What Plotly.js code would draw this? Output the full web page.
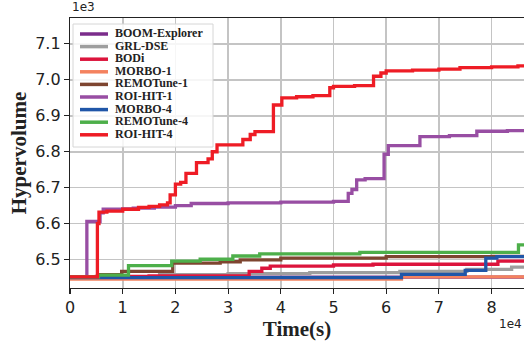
<!DOCTYPE html>
<html>
<head>
<meta charset="utf-8">
<script src="https://cdn.plot.ly/plotly-3.0.1.min.js"></script>
<style>html,body{margin:0;padding:0;background:#fff;}#chart{width:524px;height:341px;}</style>
</head>
<body>
<div id="chart"></div>
<script>
// Time in units of 1e4 s, hypervolume in units of 1e3
const seriesNames = ["BOOM-Explorer","GRL-DSE","BODi","MORBO-1","REMOTune-1","ROI-HIT-1","MORBO-4","REMOTune-4","ROI-HIT-4"];
const seriesColors = ["#7b2d8b","#9e9e9e","#dc143c","#f4825f","#7e4530","#984ea3","#2056a8","#4daf4a","#ee1c25"];

const boomX = [0, 3.0, 8.62];
const boomY = [6.450, 6.451, 6.452];

const grlX = [0, 1.7, 3.0, 4.55, 6.26, 7.53, 8.38, 8.62];
const grlY = [6.452, 6.458, 6.461, 6.464, 6.467, 6.473, 6.479, 6.480];

const bodiX = [0, 0.5, 1.5, 3.40, 3.64, 3.80, 5.0, 5.75, 8.12, 8.62];
const bodiY = [6.452, 6.453, 6.455, 6.467, 6.476, 6.482, 6.485, 6.487, 6.496, 6.497];

const morbo1X = [0, 6.29, 8.62];
const morbo1Y = [6.446, 6.452, 6.452];

const remo1X = [0, 0.55, 0.98, 1.95, 2.85, 3.23, 4.0, 6.0, 8.0, 8.62];
const remo1Y = [6.452, 6.458, 6.467, 6.490, 6.494, 6.499, 6.504, 6.508, 6.509, 6.510];

const roi1X = [0, 0.32, 0.57, 0.63, 1.0, 1.2, 1.6, 2.0, 2.3, 3.0, 4.0, 5.0, 5.28, 5.35, 5.44, 5.6, 5.96, 6.04, 6.64, 7.2, 7.72, 8.3, 8.62];
const roi1Y = [6.452, 6.606, 6.630, 6.640, 6.641, 6.643, 6.646, 6.650, 6.656, 6.658, 6.660, 6.662, 6.684, 6.695, 6.722, 6.725, 6.793, 6.817, 6.842, 6.845, 6.857, 6.859, 6.860];

const morbo4X = [0, 6.29, 7.50, 7.89, 8.10, 8.62];
const morbo4Y = [6.450, 6.459, 6.470, 6.504, 6.508, 6.508];

const remo4X = [0, 0.54, 1.11, 1.93, 2.47, 3.09, 3.6, 5.5, 8.51, 8.62];
const remo4Y = [6.452, 6.457, 6.483, 6.496, 6.501, 6.510, 6.516, 6.520, 6.541, 6.541];

const roi4X = [0, 0.52, 0.55, 0.7, 1.0, 1.3, 1.5, 1.7, 1.85, 1.9, 2.0, 2.1, 2.2, 2.4, 2.62, 2.7, 2.79, 3.28, 3.42, 3.51, 3.86, 4.02, 4.3, 4.61, 4.93, 5.0, 5.4, 5.76, 5.9, 6.0, 6.5, 7.0, 7.4, 8.0, 8.5, 8.62];
const roi4Y = [6.452, 6.600, 6.632, 6.635, 6.640, 6.645, 6.648, 6.652, 6.658, 6.680, 6.710, 6.715, 6.740, 6.770, 6.780, 6.800, 6.819, 6.834, 6.848, 6.856, 6.930, 6.950, 6.953, 6.956, 6.978, 6.982, 6.984, 7.010, 7.019, 7.025, 7.027, 7.030, 7.034, 7.036, 7.039, 7.040];

const xTicks = [0,1,2,3,4,5,6,7,8];
const yTicks = [6.5,6.6,6.7,6.8,6.9,7.0,7.1];
const yTickLabels = ["6.5","6.6","6.7","6.8","6.9","7.0","7.1"];

const allX = [boomX, grlX, bodiX, morbo1X, remo1X, roi1X, morbo4X, remo4X, roi4X];
const allY = [boomY, grlY, bodiY, morbo1Y, remo1Y, roi1Y, morbo4Y, remo4Y, roi4Y];

const traces = seriesNames.map((n, i) => ({
  x: allX[i], y: allY[i], name: n, type: 'scatter', mode: 'lines',
  line: {shape: 'hv', color: seriesColors[i], width: 3.3},
  hoverinfo: 'skip', showlegend: false
}));

// compact legend drawn on a hidden overlay subplot measured in page pixels
const W = 524, H = 341;
const mL = 70, mR = 0, mT = 18, mB = 53;
const legTop = 34, legStep = 12.6;
const rowY = seriesNames.map((n, i) => legTop + i * legStep);

traces.push({type: 'scatter', mode: 'lines', xaxis: 'x2', yaxis: 'y2',
  x: [73, 213, 213, 73, 73], y: [24, 24, 147, 147, 24], fill: 'toself',
  fillcolor: 'rgba(255,255,255,0.85)', line: {color: '#d6d6d6', width: 1},
  hoverinfo: 'skip', showlegend: false});
seriesNames.forEach((n, i) => {
  traces.push({type: 'scatter', mode: 'lines', xaxis: 'x2', yaxis: 'y2',
    x: [80, 108], y: [rowY[i], rowY[i]], line: {color: seriesColors[i], width: 3.5},
    hoverinfo: 'skip', showlegend: false});
});
traces.push({type: 'scatter', mode: 'text', xaxis: 'x2', yaxis: 'y2',
  x: seriesNames.map(() => 115), y: rowY, text: seriesNames.map(n => '<b>' + n + '</b>'),
  textposition: 'middle right', cliponaxis: false,
  textfont: {family: 'Liberation Serif, Times New Roman, serif', size: 12, color: '#222'},
  hoverinfo: 'skip', showlegend: false});

const layout = {
  width: W, height: H,
  margin: {l: mL, r: mR, t: mT, b: mB},
  paper_bgcolor: '#fff', plot_bgcolor: '#fff',
  font: {family: 'DejaVu Sans', color: '#222'},
  xaxis: {
    range: [0, 8.615], tickvals: xTicks, ticktext: xTicks.map(String),
    showgrid: true, gridcolor: '#c4c4c4', gridwidth: 1.6, zeroline: false,
    showline: true, linecolor: '#222', linewidth: 1.2, mirror: true,
    ticks: 'outside', ticklen: 5, tickwidth: 1.2, tickcolor: '#222',
    tickfont: {family: 'DejaVu Sans', size: 16, color: '#222'},
    title: {text: '<b>Time(s)</b>', standoff: 2, font: {family: 'Liberation Serif, Times New Roman, serif', size: 21, color: '#222'}}
  },
  yaxis: {
    range: [6.421, 7.172], tickvals: yTicks, ticktext: yTickLabels,
    showgrid: true, gridcolor: '#c4c4c4', gridwidth: 1.6, zeroline: false,
    showline: true, linecolor: '#222', linewidth: 1.2, mirror: false,
    ticks: 'outside', ticklen: 5, tickwidth: 1.2, tickcolor: '#222',
    tickfont: {family: 'DejaVu Sans', size: 16, color: '#222'},
    title: {text: '<b>Hypervolume</b>', standoff: 2, font: {family: 'Liberation Serif, Times New Roman, serif', size: 21, color: '#222'}}
  },
  xaxis2: {overlaying: 'x', range: [mL, W - mR], visible: false, fixedrange: true},
  yaxis2: {overlaying: 'y', range: [H - mB, mT], visible: false, fixedrange: true},
  annotations: [
    {xref: 'paper', yref: 'paper', x: 0, y: 1, xanchor: 'left', yanchor: 'bottom', yshift: 2,
      showarrow: false, text: '1e3', font: {family: 'DejaVu Sans', size: 12, color: '#222'}},
    {xref: 'paper', yref: 'paper', x: 1, y: 0, xanchor: 'right', yanchor: 'top', yshift: -27,
      showarrow: false, text: '1e4', font: {family: 'DejaVu Sans', size: 12, color: '#222'}}
  ]
};

Plotly.newPlot('chart', traces, layout, {displayModeBar: false, staticPlot: true});
</script>
</body>
</html>
